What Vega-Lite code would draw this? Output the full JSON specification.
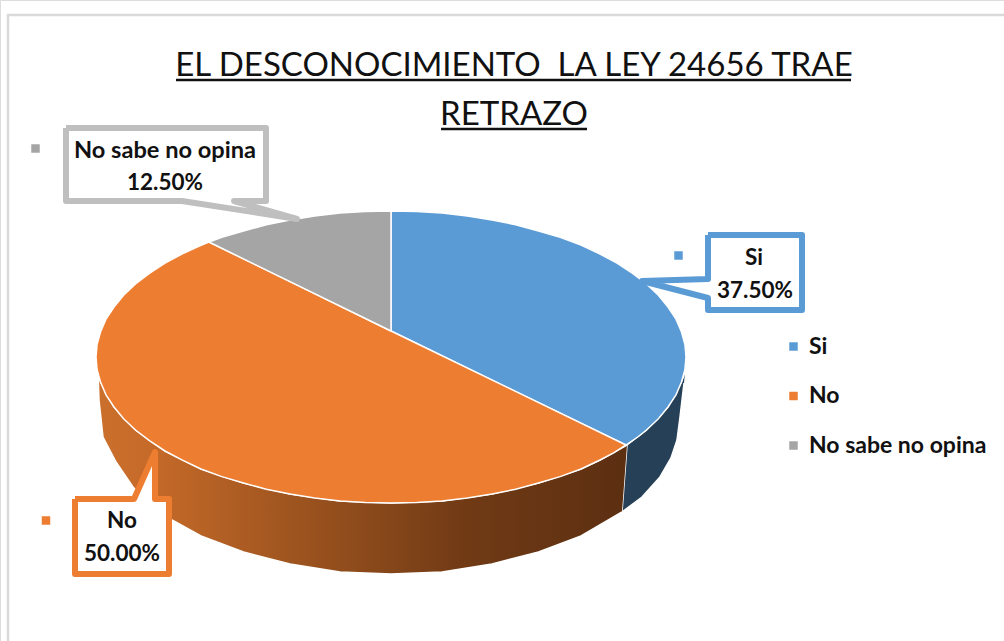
{
"$schema":"https://vega.github.io/schema/vega-lite/v6.json",
"width":1004,"height":641,"padding":0,"autosize":{"type":"none"},"background":"white",
"title":{"text":["EL DESCONOCIMIENTO\u00a0 LA LEY 24656 TRAE","RETRAZO"],"font":"Lato","fontSize":33,"fontWeight":400,"color":"#111111","lineHeight":49,"anchor":"middle","align":"center","baseline":"alphabetic","dy":158,"dx":12,"offset":0},
"datasets":{
"outline":[
{"shape":"frame","i":0,"x":8,"y":641},{"shape":"frame","i":1,"x":8,"y":15},{"shape":"frame","i":2,"x":1004,"y":15},
{"shape":"wallSi","i":0,"x":685,"y":372},{"shape":"wallSi","i":1,"x":681.5,"y":382},{"shape":"wallSi","i":2,"x":668,"y":407},{"shape":"wallSi","i":3,"x":646.5,"y":430},{"shape":"wallSi","i":4,"x":627,"y":445},{"shape":"wallSi","i":5,"x":622,"y":512},{"shape":"wallSi","i":6,"x":642,"y":497},{"shape":"wallSi","i":7,"x":660,"y":477},{"shape":"wallSi","i":8,"x":671,"y":458},{"shape":"wallSi","i":9,"x":677,"y":440},{"shape":"wallSi","i":10,"x":680,"y":417},{"shape":"wallSi","i":11,"x":684,"y":383},
{"shape":"wallNo","i":0,"x":627,"y":445},{"shape":"wallNo","i":1,"x":600,"y":460},{"shape":"wallNo","i":2,"x":581,"y":469},{"shape":"wallNo","i":3,"x":538.5,"y":483},{"shape":"wallNo","i":4,"x":492,"y":494},{"shape":"wallNo","i":5,"x":442,"y":501},{"shape":"wallNo","i":6,"x":391,"y":503},{"shape":"wallNo","i":7,"x":340,"y":501},{"shape":"wallNo","i":8,"x":290,"y":494},{"shape":"wallNo","i":9,"x":243.5,"y":483},{"shape":"wallNo","i":10,"x":201,"y":469},{"shape":"wallNo","i":11,"x":165,"y":451},{"shape":"wallNo","i":12,"x":135.5,"y":430},{"shape":"wallNo","i":13,"x":114,"y":407},{"shape":"wallNo","i":14,"x":100.5,"y":382},{"shape":"wallNo","i":15,"x":98,"y":372},{"shape":"wallNo","i":16,"x":99,"y":400},{"shape":"wallNo","i":17,"x":103,"y":437},{"shape":"wallNo","i":18,"x":116,"y":462},{"shape":"wallNo","i":19,"x":133,"y":487},{"shape":"wallNo","i":20,"x":151,"y":505},{"shape":"wallNo","i":21,"x":172,"y":520},{"shape":"wallNo","i":22,"x":201,"y":536},{"shape":"wallNo","i":23,"x":243.5,"y":552},{"shape":"wallNo","i":24,"x":290,"y":564},{"shape":"wallNo","i":25,"x":340,"y":572},{"shape":"wallNo","i":26,"x":391,"y":574},{"shape":"wallNo","i":27,"x":442,"y":572},{"shape":"wallNo","i":28,"x":492,"y":564},{"shape":"wallNo","i":29,"x":538.5,"y":552},{"shape":"wallNo","i":30,"x":581,"y":536},{"shape":"wallNo","i":31,"x":622,"y":512},
{"shape":"topSi","i":0,"x":391,"y":331},{"shape":"topSi","i":1,"x":391,"y":211},{"shape":"topSi","i":2,"x":416.7,"y":211.6},{"shape":"topSi","i":3,"x":442,"y":213},{"shape":"topSi","i":4,"x":467.4,"y":216},{"shape":"topSi","i":5,"x":492,"y":220},{"shape":"topSi","i":6,"x":515.7,"y":224.7},{"shape":"topSi","i":7,"x":538.5,"y":231},{"shape":"topSi","i":8,"x":560.2,"y":237.4},{"shape":"topSi","i":9,"x":581,"y":245},{"shape":"topSi","i":10,"x":599.6,"y":253.8},{"shape":"topSi","i":11,"x":617,"y":263},{"shape":"topSi","i":12,"x":632.6,"y":273.3},{"shape":"topSi","i":13,"x":646.5,"y":284},{"shape":"topSi","i":14,"x":658.4,"y":295.3},{"shape":"topSi","i":15,"x":668,"y":307},{"shape":"topSi","i":16,"x":676,"y":319.2},{"shape":"topSi","i":17,"x":681.5,"y":332},{"shape":"topSi","i":18,"x":684.9,"y":344.3},{"shape":"topSi","i":19,"x":686,"y":357},{"shape":"topSi","i":20,"x":684.9,"y":369.7},{"shape":"topSi","i":21,"x":681.5,"y":382},{"shape":"topSi","i":22,"x":676,"y":394.8},{"shape":"topSi","i":23,"x":668,"y":407},{"shape":"topSi","i":24,"x":658.4,"y":418.7},{"shape":"topSi","i":25,"x":646.5,"y":430},{"shape":"topSi","i":26,"x":638.4,"y":436.5},{"shape":"topSi","i":27,"x":626,"y":445},{"shape":"topSi","i":28,"x":391,"y":331},
{"shape":"topNo","i":0,"x":391,"y":331},{"shape":"topNo","i":1,"x":626,"y":445},{"shape":"topNo","i":2,"x":613.6,"y":452.8},{"shape":"topNo","i":3,"x":600,"y":460},{"shape":"topNo","i":4,"x":581,"y":469},{"shape":"topNo","i":5,"x":560.2,"y":476.6},{"shape":"topNo","i":6,"x":538.5,"y":483},{"shape":"topNo","i":7,"x":515.7,"y":489.3},{"shape":"topNo","i":8,"x":492,"y":494},{"shape":"topNo","i":9,"x":467.4,"y":498},{"shape":"topNo","i":10,"x":442,"y":501},{"shape":"topNo","i":11,"x":416.7,"y":502.4},{"shape":"topNo","i":12,"x":391,"y":503},{"shape":"topNo","i":13,"x":365.3,"y":502.4},{"shape":"topNo","i":14,"x":340,"y":501},{"shape":"topNo","i":15,"x":314.6,"y":498},{"shape":"topNo","i":16,"x":290,"y":494},{"shape":"topNo","i":17,"x":266.3,"y":489.3},{"shape":"topNo","i":18,"x":243.5,"y":483},{"shape":"topNo","i":19,"x":221.8,"y":476.6},{"shape":"topNo","i":20,"x":201,"y":469},{"shape":"topNo","i":21,"x":182.4,"y":460.2},{"shape":"topNo","i":22,"x":165,"y":451},{"shape":"topNo","i":23,"x":149.4,"y":440.7},{"shape":"topNo","i":24,"x":135.5,"y":430},{"shape":"topNo","i":25,"x":123.6,"y":418.7},{"shape":"topNo","i":26,"x":114,"y":407},{"shape":"topNo","i":27,"x":106,"y":394.8},{"shape":"topNo","i":28,"x":100.5,"y":382},{"shape":"topNo","i":29,"x":97.1,"y":369.7},{"shape":"topNo","i":30,"x":96,"y":357},{"shape":"topNo","i":31,"x":97.1,"y":344.3},{"shape":"topNo","i":32,"x":100.5,"y":332},{"shape":"topNo","i":33,"x":106,"y":319.2},{"shape":"topNo","i":34,"x":114,"y":307},{"shape":"topNo","i":35,"x":123.6,"y":295.3},{"shape":"topNo","i":36,"x":135.5,"y":284},{"shape":"topNo","i":37,"x":149.4,"y":273.3},{"shape":"topNo","i":38,"x":165,"y":263},{"shape":"topNo","i":39,"x":182.4,"y":253.8},{"shape":"topNo","i":40,"x":201,"y":245.2},{"shape":"topNo","i":41,"x":209,"y":242},{"shape":"topNo","i":42,"x":391,"y":331},
{"shape":"topNS","i":0,"x":391,"y":331},{"shape":"topNS","i":1,"x":209,"y":242},{"shape":"topNS","i":2,"x":221.8,"y":237.4},{"shape":"topNS","i":3,"x":243.5,"y":231},{"shape":"topNS","i":4,"x":266.3,"y":224.7},{"shape":"topNS","i":5,"x":290,"y":220},{"shape":"topNS","i":6,"x":314.6,"y":216},{"shape":"topNS","i":7,"x":340,"y":213},{"shape":"topNS","i":8,"x":365.3,"y":211.6},{"shape":"topNS","i":9,"x":391,"y":211},{"shape":"topNS","i":10,"x":391,"y":331},
{"shape":"callNS","i":0,"x":66,"y":128},{"shape":"callNS","i":1,"x":266,"y":128},{"shape":"callNS","i":2,"x":266,"y":201},{"shape":"callNS","i":3,"x":234,"y":201},{"shape":"callNS","i":4,"x":297,"y":219},{"shape":"callNS","i":5,"x":182,"y":201},{"shape":"callNS","i":6,"x":66,"y":201},{"shape":"callNS","i":7,"x":66,"y":128},
{"shape":"callSi","i":0,"x":708,"y":235},{"shape":"callSi","i":1,"x":802,"y":235},{"shape":"callSi","i":2,"x":802,"y":310},{"shape":"callSi","i":3,"x":708,"y":310},{"shape":"callSi","i":4,"x":708,"y":298},{"shape":"callSi","i":5,"x":642,"y":281},{"shape":"callSi","i":6,"x":708,"y":279},{"shape":"callSi","i":7,"x":708,"y":235},
{"shape":"callNo","i":0,"x":75,"y":499},{"shape":"callNo","i":1,"x":134,"y":499},{"shape":"callNo","i":2,"x":155,"y":452},{"shape":"callNo","i":3,"x":155,"y":499},{"shape":"callNo","i":4,"x":169,"y":499},{"shape":"callNo","i":5,"x":169,"y":574},{"shape":"callNo","i":6,"x":75,"y":574},{"shape":"callNo","i":7,"x":75,"y":499}
],
"slices":[
{"part":"Si","value":37.5,"x":678.5,"y":255.5},
{"part":"No","value":50,"x":46,"y":520.5},
{"part":"No sabe no opina","value":12.5,"x":35.5,"y":148.5}
],
"texts":[
{"part":"Si","line":"Si","x":754,"y":265},{"part":"Si","line":"37.50%","x":755,"y":298},
{"part":"No","line":"No","x":122,"y":528},{"part":"No","line":"50.00%","x":122,"y":561},
{"part":"No sabe no opina","line":"12.50%","x":165,"y":190}
],
"textsLong":[{"part":"No sabe no opina","line":"No sabe no opina","x":165,"y":158}],
"underlines":[{"x":176,"x2":851,"y":80},{"x":441,"x2":587,"y":129}]
},
"encoding":{
"x":{"field":"x","type":"quantitative","scale":{"domain":[0,1004],"nice":false,"zero":false},"axis":null},
"y":{"field":"y","type":"quantitative","scale":{"domain":[641,0],"nice":false,"zero":false},"axis":null}
},
"layer":[
{"data":{"name":"outline"},"transform":[{"filter":"datum.shape==='frame'"}],"mark":{"type":"line","stroke":"#d9d9d9","strokeWidth":2.5},"encoding":{"order":{"field":"i","type":"quantitative"}}},
{"data":{"name":"outline"},"transform":[{"filter":"datum.shape==='wallSi'"}],"mark":{"type":"line","fill":"#264157","stroke":"white","strokeWidth":1.5},"encoding":{"order":{"field":"i","type":"quantitative"}}},
{"data":{"name":"outline"},"transform":[{"filter":"datum.shape==='wallNo'"}],"mark":{"type":"line","fill":{"gradient":"linear","x1":0,"x2":1,"y1":0,"y2":0,"stops":[{"offset":0,"color":"#cb6f2c"},{"offset":0.1,"color":"#c56a29"},{"offset":0.4,"color":"#9a521e"},{"offset":0.7,"color":"#703a15"},{"offset":1,"color":"#5c2f11"}]},"stroke":"white","strokeWidth":1.5},"encoding":{"order":{"field":"i","type":"quantitative"}}},
{"data":{"name":"outline"},"transform":[{"filter":"datum.shape==='topSi'"}],"mark":{"type":"line","fill":"#5b9bd5","stroke":"white","strokeWidth":1.5},"encoding":{"order":{"field":"i","type":"quantitative"}}},
{"data":{"name":"outline"},"transform":[{"filter":"datum.shape==='topNo'"}],"mark":{"type":"line","fill":"#ed7d31","stroke":"white","strokeWidth":1.5},"encoding":{"order":{"field":"i","type":"quantitative"}}},
{"data":{"name":"outline"},"transform":[{"filter":"datum.shape==='topNS'"}],"mark":{"type":"line","fill":"#a5a5a5","stroke":"white","strokeWidth":1.5},"encoding":{"order":{"field":"i","type":"quantitative"}}},
{"data":{"name":"outline"},"transform":[{"filter":"datum.shape==='callNS'"}],"mark":{"type":"line","fill":"white","stroke":"#bfbfbf","strokeWidth":6,"strokeJoin":"round"},"encoding":{"order":{"field":"i","type":"quantitative"}}},
{"data":{"name":"outline"},"transform":[{"filter":"datum.shape==='callSi'"}],"mark":{"type":"line","fill":"white","stroke":"#5b9bd5","strokeWidth":6,"strokeJoin":"round"},"encoding":{"order":{"field":"i","type":"quantitative"}}},
{"data":{"name":"outline"},"transform":[{"filter":"datum.shape==='callNo'"}],"mark":{"type":"line","fill":"white","stroke":"#ed7d31","strokeWidth":6,"strokeJoin":"round"},"encoding":{"order":{"field":"i","type":"quantitative"}}},
{"data":{"name":"underlines"},"mark":{"type":"rule","stroke":"#111111","strokeWidth":2.5},"encoding":{"x2":{"field":"x2"}}},
{"data":{"name":"slices"},"mark":{"type":"square","filled":true,"size":72,"opacity":1},"encoding":{"color":{"field":"part","type":"nominal","scale":{"domain":["Si","No","No sabe no opina"],"range":["#5b9bd5","#ed7d31","#a5a5a5"]},"legend":{"title":null,"orient":"none","legendX":782,"legendY":335,"symbolType":"square","symbolSize":72,"symbolOpacity":1,"labelFont":"Lato","labelFontSize":23,"labelFontWeight":700,"labelColor":"#111111","labelOffset":4,"rowPadding":25.5,"labelLimit":220}}}},
{"data":{"name":"texts"},"mark":{"type":"text","font":"Lato","fontSize":22.5,"fontWeight":700,"color":"#111111","align":"center","baseline":"alphabetic"},"encoding":{"text":{"field":"line"}}},
{"data":{"name":"textsLong"},"mark":{"type":"text","font":"Lato","fontSize":23.6,"fontWeight":700,"color":"#111111","align":"center","baseline":"alphabetic"},"encoding":{"text":{"field":"line"}}}
]
}
